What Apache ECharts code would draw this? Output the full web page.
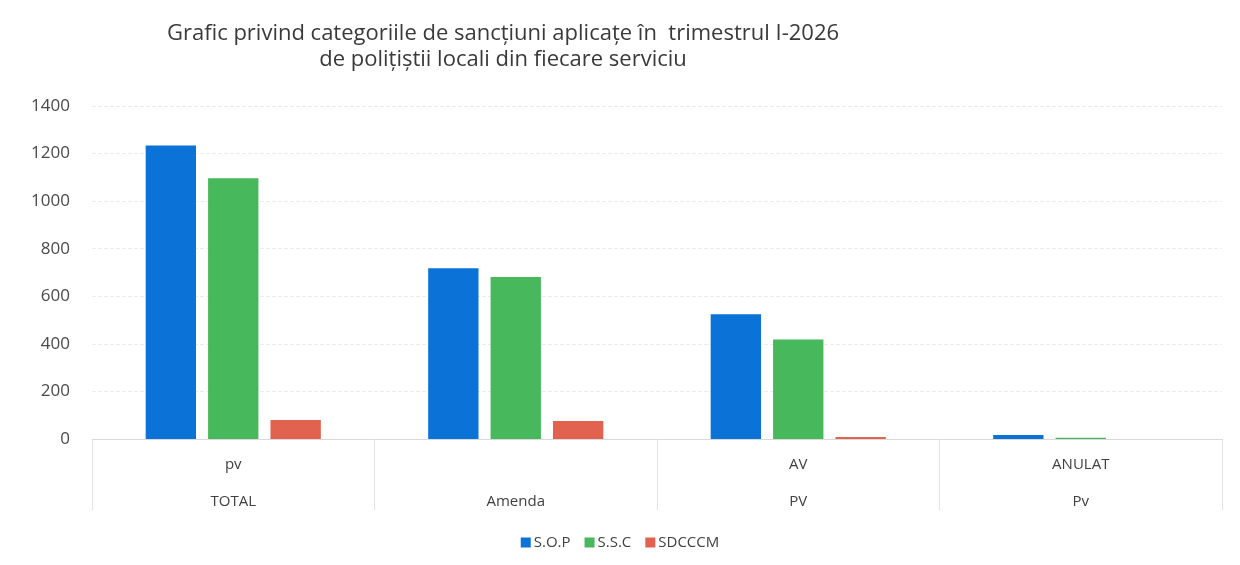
<!DOCTYPE html>
<html>
<head>
<meta charset="utf-8">
<script src="https://cdn.jsdelivr.net/npm/echarts@6/dist/echarts.min.js"></script>
<style>
  html, body { margin: 0; padding: 0; background: #fff; }
  #chart { width: 1240px; height: 565px; }
</style>
</head>
<body>
<div id="chart"></div>
<script>
// date
var topLabels = ['pv', '', 'AV', 'ANULAT'];
var bottomLabels = ['TOTAL', 'Amenda', 'PV', 'Pv'];
var sop = [1234, 718, 524, 17];
var ssc = [1096, 681, 418, 5];
var sdcccm = [80, 76, 8, 0];
var yTicks = [0, 200, 400, 600, 800, 1000, 1200, 1400];

var categories = bottomLabels.map(function (b, i) {
  return topLabels[i] + '\n' + b;
});

var chart = echarts.init(document.getElementById('chart'));
var font = '"Open Sans", sans-serif';

var option = {
  animation: false,
  title: {
    text: 'Grafic privind categoriile de sancțiuni aplicațe în  trimestrul I-2026\nde polițiștii locali din fiecare serviciu',
    left: 498,
    textAlign: 'center',
    top: 16,
    textStyle: {
      fontFamily: font,
      fontSize: 22,
      fontWeight: 'normal',
      color: '#3a3a3a',
      lineHeight: 26
    }
  },
  legend: {
    bottom: 10,
    left: 'center',
    itemWidth: 10,
    itemHeight: 10,
    itemGap: 14,
    icon: 'rect',
    textStyle: { fontFamily: font, fontSize: 15, color: '#404040', padding: [0, 0, 0, -2] },
    data: ['S.O.P', 'S.S.C', 'SDCCCM']
  },
  grid: {
    left: 92,
    right: 18,
    top: 106,
    bottom: 126
  },
  xAxis: {
    type: 'category',
    data: categories,
    axisLine: { lineStyle: { color: '#d9d9d9' } },
    axisTick: { show: true, length: 71, lineStyle: { color: '#e2e2e2' } },
    axisLabel: {
      fontFamily: font,
      fontSize: 15,
      color: '#404040',
      lineHeight: 37,
      margin: 7
    }
  },
  yAxis: {
    type: 'value',
    min: yTicks[0],
    max: yTicks[yTicks.length - 1],
    interval: 200,
    axisLine: { show: false },
    axisTick: { show: false },
    splitLine: { lineStyle: { color: '#ececec', type: 'dashed' } },
    axisLabel: {
      fontFamily: font,
      fontSize: 17,
      color: '#4a4a4a',
      margin: 22,
      formatter: function (v) { return String(v); }
    }
  },
  series: [
    {
      name: 'S.O.P',
      type: 'bar',
      data: sop,
      barGap: '24%',
      barCategoryGap: '38%',
      itemStyle: { color: '#0b72d8' }
    },
    {
      name: 'S.S.C',
      type: 'bar',
      data: ssc,
      itemStyle: { color: '#47b85c' }
    },
    {
      name: 'SDCCCM',
      type: 'bar',
      data: sdcccm,
      itemStyle: { color: '#e0624f' }
    }
  ]
};

chart.setOption(option);
</script>
</body>
</html>
